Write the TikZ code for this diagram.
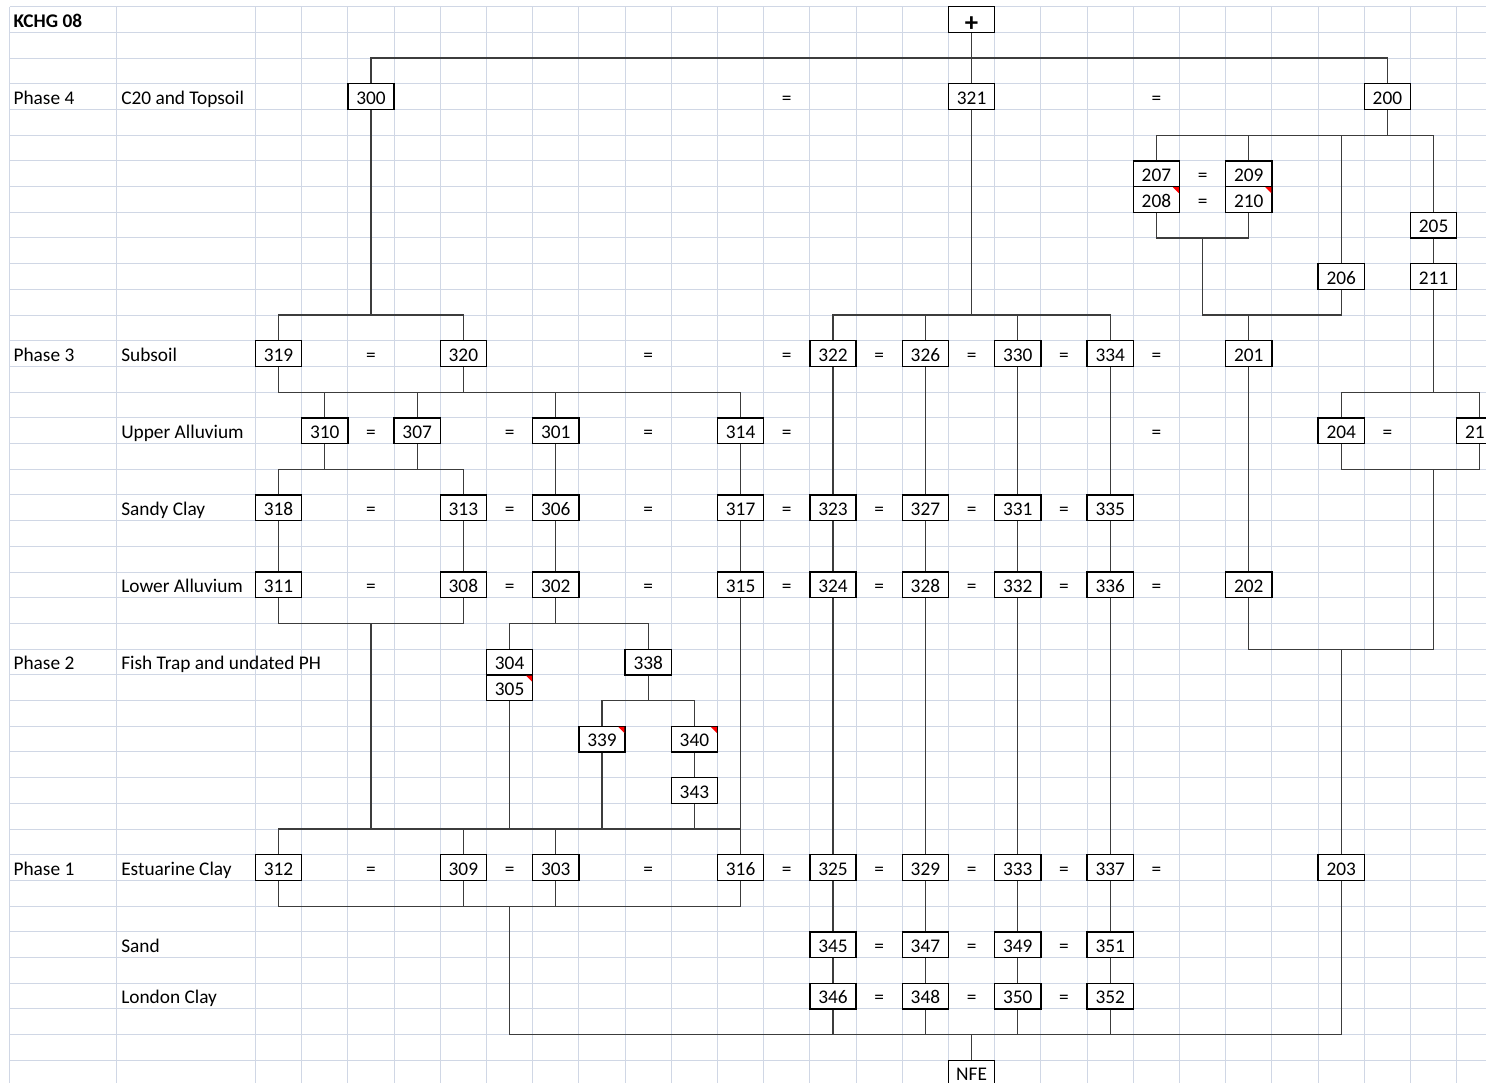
\documentclass[tikz,border=0pt]{standalone}
\usepackage{fontspec}
\setmainfont{Carlito}
\usepackage{tikz}
\usetikzlibrary{calc}

\definecolor{gridblue}{RGB}{208,215,229}
\definecolor{linkgrey}{RGB}{60,60,60}
\newcommand{\cellfont}{\fontsize{14.5}{16}\selectfont}

\begin{document}
\begin{tikzpicture}[x=34.65pt, y=-19.275pt,
  every node/.style={font=\cellfont, inner sep=0pt, text height=11.6pt, text depth=0pt},
  unit/.style={draw=black, line width=1pt, fill=white, minimum width=34.65pt, minimum height=19.275pt},
  lbl/.style={anchor=west},
  link/.style={draw=linkgrey, line width=0.9pt},
  gridline/.style={draw=gridblue, line width=0.75pt}]
  \useasboundingbox (-6.030,-0.759) rectangle (26.134,41.38);
  \clip (-6.030,-0.759) rectangle (26.134,41.38);

  % spreadsheet grid
  \foreach \r in {0,...,42}
    \draw[gridline] (-5.814,\r-0.5) -- (26.2,\r-0.5);
  \foreach \x in {-5.814,-3.498}
    \draw[gridline] (\x,-0.5) -- (\x,41.5);
  \foreach \x in {-0.5,0.5,...,25.5}
    \draw[gridline] (\x,-0.5) -- (\x,41.5);

  % row labels
  \node[lbl, font=\cellfont\bfseries] (site) at (-5.742,0) {KCHG 08};
  \foreach \t/\r [count=\i] in {Phase 4/3, Phase 3/13, Phase 2/25, Phase 1/33}
    \node[lbl] (phase\i) at (-5.742,\r) {\t};
  \foreach \t/\r [count=\i] in {C20 and Topsoil/3, Subsoil/13, Upper Alluvium/16,
      Sandy Clay/19, Lower Alluvium/22, Fish Trap and undated PH/25,
      Estuarine Clay/33, Sand/36, London Clay/38}
    \node[lbl] (layer\i) at (-3.411,\r) {\t};

  % contexts
  \foreach \n/\c/\r in {300/2/3, 321/15/3, 200/24/3, 207/19/6, 209/21/6, 208/19/7,
      210/21/7, 205/25/8, 206/23/10, 211/25/10,
      319/0/13, 320/4/13, 322/12/13, 326/14/13, 330/16/13, 334/18/13, 201/21/13,
      310/1/16, 307/3/16, 301/6/16, 314/10/16, 204/23/16,
      318/0/19, 313/4/19, 306/6/19, 317/10/19, 323/12/19, 327/14/19, 331/16/19, 335/18/19,
      311/0/22, 308/4/22, 302/6/22, 315/10/22, 324/12/22, 328/14/22, 332/16/22, 336/18/22, 202/21/22,
      304/5/25, 338/8/25, 305/5/26, 339/7/28, 340/9/28, 343/9/30,
      312/0/33, 309/4/33, 303/6/33, 316/10/33, 325/12/33, 329/14/33, 333/16/33, 337/18/33, 203/23/33,
      345/12/36, 347/14/36, 349/16/36, 351/18/36,
      346/12/38, 348/14/38, 350/16/38, 352/18/38}
    \node[unit] (u\n) at (\c,\r) {\n};
  \node[unit] (uplus) at (15,0) {\raisebox{-3.4pt}{\fontsize{20}{22}\selectfont\bfseries +}};
  \node[unit] (unfe) at (15,41) {NFE};
  \node[unit] (u21x) at (26,16) {21\phantom{1}};

  % equivalences
  \foreach \c/\r [count=\i] in {11/3, 19/3, 20/6, 20/7,
      2/13, 8/13, 11/13, 13/13, 15/13, 17/13, 19/13,
      2/16, 5/16, 8/16, 11/16, 19/16, 24/16,
      2/19, 5/19, 8/19, 11/19, 13/19, 15/19, 17/19,
      2/22, 5/22, 8/22, 11/22, 13/22, 15/22, 17/22, 19/22,
      2/33, 5/33, 8/33, 11/33, 13/33, 15/33, 17/33, 19/33,
      13/36, 15/36, 17/36, 13/38, 15/38, 17/38}
    \node (eq\i) at (\c,\r) {=};

  % top
  \coordinate (top) at (15,1.5);
  \draw[link] (uplus.south) -- (u321.north);
  \draw[link] (u300.north) |- (top) -| (u200.north);

  % phase 4 to phase 3
  \coordinate (j300) at (2,11.5);
  \coordinate (j321) at (15,11.5);
  \draw[link] (u300.south) -- (j300);
  \draw[link] (u319.north) |- (j300) -| (u320.north);
  \draw[link] (u321.south) -- (j321);
  \draw[link] (u322.north) |- (j321) -| (u334.north);
  \foreach \n in {326,330}
    \draw[link] (u\n.north) -- (u\n.north |- j321);

  % 200 group
  \coordinate (j200) at (24,4.5);
  \draw[link] (u200.south) -- (j200);
  \draw[link] (u207.north) |- (j200) -| (u205.north);
  \foreach \n in {209,206}
    \draw[link] (u\n.north) -- (u\n.north |- j200);
  \coordinate (j208) at (20,8.5);
  \coordinate (j206) at (21,11.5);
  \draw[link] (u208.south) |- (j208) -| (u210.south);
  \draw[link] (j208) |- (j206) -| (u206.south);
  \draw[link] (j206) -- (u201.north);
  \draw[link] (u205.south) -- (u211.north);
  \coordinate (j211) at (25,14.5);
  \draw[link] (u211.south) -- (j211);
  \draw[link] (u204.north) |- (j211) -| (u21x.north);
  \coordinate (j204) at (25,17.5);
  \coordinate (j202) at (23,24.5);
  \draw[link] (u204.south) |- (j204) -| (u21x.south);
  \draw[link] (j204) |- (j202) -| (u202.south);
  \draw[link] (j202) -- (u203.north);
  \draw[link] (u201.south) -- (u202.north);

  % subsoil and alluvium
  \coordinate (j319) at (4,14.5);
  \draw[link] (u319.south) |- (j319) -| (u314.north);
  \draw[link] (u320.south) -- (j319);
  \foreach \n in {310,307,301}
    \draw[link] (u\n.north) -- (u\n.north |- j319);
  \coordinate (j310) at (1,17.5);
  \draw[link] (u318.north) |- (j310) -| (u313.north);
  \draw[link] (u310.south) -- (j310);
  \draw[link] (u307.south) -- (u307.south |- j310);

  % straight runs
  \foreach \a/\b in {301/306, 306/302, 314/317, 317/315, 318/311, 313/308, 315/316, 340/343,
      322/323, 323/324, 324/325, 325/345, 345/346,
      326/327, 327/328, 328/329, 329/347, 347/348,
      330/331, 331/332, 332/333, 333/349, 349/350,
      334/335, 335/336, 336/337, 337/351, 351/352}
    \draw[link] (u\a.south) -- (u\b.north);

  % phase 2
  \coordinate (j311) at (2,23.5);
  \coordinate (j302) at (6,23.5);
  \coordinate (j338) at (8,26.5);
  \coordinate (j312) at (2,31.5);
  \draw[link] (u311.south) |- (j311) -| (u308.south);
  \draw[link] (j311) -- (j312);
  \draw[link] (u302.south) -- (j302);
  \draw[link] (u304.north) |- (j302) -| (u338.north);
  \draw[link] (u338.south) -- (j338);
  \draw[link] (u339.north) |- (j338) -| (u340.north);
  \draw[link] (u312.north) |- (j312) -| (u316.north);
  \foreach \n in {305,339,343}
    \draw[link] (u\n.south) -- (u\n.south |- j312);
  \foreach \n in {309,303}
    \draw[link] (u\n.north) -- (u\n.north |- j312);

  % phase 1 to NFE
  \coordinate (j309) at (5,34.5);
  \coordinate (jnfe) at (15,39.5);
  \draw[link] (u312.south) |- (j309) -| (u316.south);
  \foreach \n in {309,303}
    \draw[link] (u\n.south) -- (u\n.south |- j309);
  \draw[link] (j309) |- (jnfe) -| (u203.south);
  \foreach \n in {346,348,350,352}
    \draw[link] (u\n.south) -- (u\n.south |- jnfe);
  \draw[link] (jnfe) -- (unfe.north);

  % comment marks
  \foreach \n in {208,210,305,339,340}
    \fill[red] ([shift={(-1pt,-1pt)}]u\n.north east) -- ++(-4.5pt,0) -- ++(4.5pt,-4.5pt) -- cycle;
\end{tikzpicture}
\end{document}
